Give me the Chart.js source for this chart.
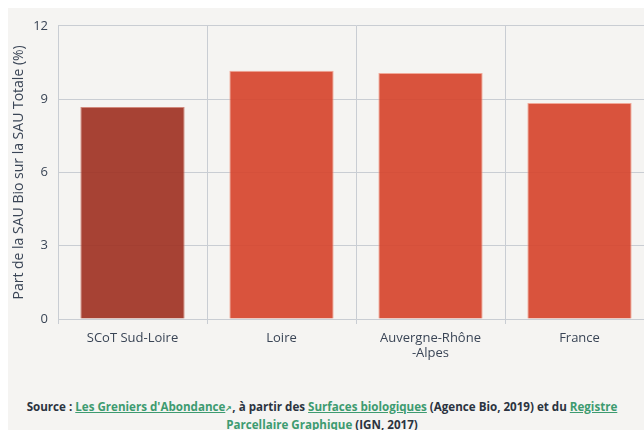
<!DOCTYPE html>
<html>
<head>
<meta charset="utf-8">
<script src="https://cdn.jsdelivr.net/npm/chart.js@4"></script>
<style>
  html, body { margin: 0; padding: 0; width: 644px; height: 430px; overflow: hidden; background: #ffffff; }
  #panel { position: absolute; left: 8px; top: 8px; width: 700px; height: 430px; background: #f5f4f2; }
  #wrap { position: absolute; left: 0; top: 0; width: 646px; height: 362px; }
  #footer { position: absolute; left: 0; top: 398px; width: 644px; text-align: center;
            font-family: "Open Sans", sans-serif; font-weight: 700; font-size: 11.6px; line-height: 17px; color: #2b3340; }
  #footer a { color: #3d9b70; text-decoration: underline; }
</style>
</head>
<body>
<div id="panel">
  <div id="wrap"><canvas id="c"></canvas></div>
</div>
<div id="footer">Source : <a>Les Greniers d'Abondance</a><span style="color:#3d9b70;font-size:8px;">&#x2197;</span>, à partir des <a>Surfaces biologiques</a> (Agence Bio, 2019) et du <a>Registre</a><br><a>Parcellaire Graphique</a> (IGN, 2017)</div>
<script>
const categories = [["SCoT Sud-Loire"], ["Loire"], ["Auvergne-Rhône", "-Alpes"], ["France"]];
const values = [8.68, 10.16, 10.07, 8.84];
const yTicks = [0, 3, 6, 9, 12];
const yTitle = "Part de la SAU Bio sur la SAU Totale (%)";
const barColors = ["rgba(160,52,38,0.93)", "rgba(214,70,47,0.93)", "rgba(214,70,47,0.93)", "rgba(214,70,47,0.93)"];
const borderColors = ["rgba(200,110,95,0.8)", "rgba(240,150,130,0.8)", "rgba(240,150,130,0.8)", "rgba(240,150,130,0.8)"];

const font = "'Open Sans', sans-serif";
const textColor = "#3a4556";
const gridColor = "#c9cdd3";

new Chart(document.getElementById('c'), {
  type: 'bar',
  data: {
    labels: categories,
    datasets: [{
      data: values,
      backgroundColor: barColors,
      borderColor: borderColors,
      borderWidth: 1,
      barPercentage: 0.7,
      categoryPercentage: 1.0
    }]
  },
  options: {
    responsive: true,
    maintainAspectRatio: false,
    animation: false,
    layout: { padding: { top: 16, right: 0, left: 0, bottom: 0 } },
    plugins: { legend: { display: false }, tooltip: { enabled: false } },
    scales: {
      x: {
        grid: { color: gridColor, lineWidth: 1, offset: true, drawTicks: true, tickLength: 5 },
        border: { color: gridColor, width: 1 },
        ticks: { color: textColor, font: { family: font, size: 13 }, padding: 6, maxRotation: 0 },
        afterFit: (s) => { s.height = 51; }
      },
      y: {
        min: 0, max: 12,
        afterBuildTicks: (s) => { s.ticks = yTicks.map(v => ({ value: v })); },
        grid: { color: gridColor, lineWidth: 1, drawTicks: false },
        border: { color: gridColor, width: 1 },
        ticks: { color: textColor, font: { family: font, size: 13 }, padding: 10 },
        title: { display: true, text: yTitle, color: textColor, font: { family: font, size: 14 }, padding: { top: 3, bottom: 0 } },
        afterFit: (s) => { s.width = 50; }
      }
    }
  }
});
</script>
</body>
</html>
